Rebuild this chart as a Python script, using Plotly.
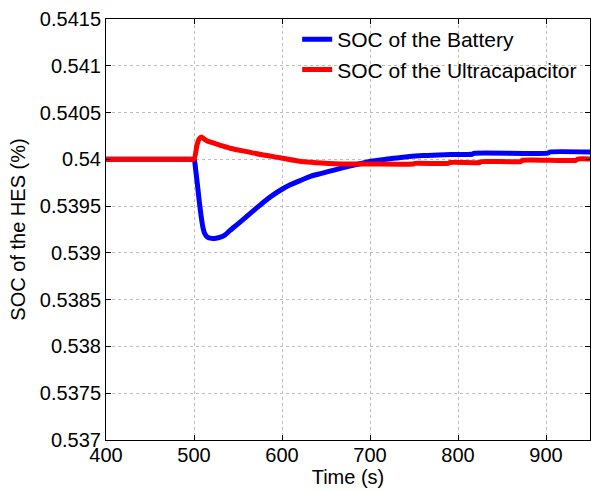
import plotly.graph_objects as go

# Battery SOC
t_batt = [400, 420, 440, 460, 480, 490, 496, 500, 502, 504, 506, 508, 510, 512, 515, 520, 525, 530,
          535, 541, 550, 560, 570, 580, 590, 600, 610, 620, 633, 645, 659, 678, 701, 718, 735, 760,
          785, 816, 818, 902, 904, 950]
v_batt = [0.54, 0.54, 0.54, 0.54, 0.54, 0.54, 0.54, 0.54, 0.53988, 0.53972, 0.53955, 0.53940,
          0.53928, 0.53921, 0.53917, 0.539155, 0.539157, 0.539168, 0.53919, 0.53924, 0.53931,
          0.53939, 0.53947, 0.53955, 0.53962, 0.53968, 0.53973, 0.53977, 0.53982, 0.53985,
          0.539885, 0.53993, 0.53998, 0.54000, 0.54002, 0.54004, 0.54005, 0.540054, 0.540064,
          0.540066, 0.540078, 0.540078]

# Ultracapacitor SOC
t_uc = [400, 420, 440, 460, 480, 490, 496, 500, 503.4, 506, 508.5, 511, 515, 520, 530, 541, 560,
        579, 598, 620, 633, 645, 660, 680, 700, 749, 751, 789, 791, 825, 827, 871, 873, 934, 936, 950]
v_uc = [0.54, 0.54, 0.54, 0.54, 0.54, 0.54, 0.54, 0.54, 0.540153, 0.54022, 0.540238, 0.54022,
        0.540196, 0.54018, 0.54015, 0.540118, 0.540082, 0.540046, 0.540017, 0.53998, 0.539968,
        0.53996, 0.539953, 0.53995, 0.53995, 0.53995, 0.539957, 0.539957, 0.539966, 0.539966,
        0.539976, 0.539976, 0.53999, 0.53999, 0.540003, 0.540003]

y_ticks = [0.537, 0.5375, 0.538, 0.5385, 0.539, 0.5395, 0.54, 0.5405, 0.541, 0.5415]
y_labels = ["0.537", "0.5375", "0.538", "0.5385", "0.539", "0.5395", "0.54", "0.5405", "0.541", "0.5415"]
x_ticks = [400, 500, 600, 700, 800, 900]

FONT = "Liberation Sans, Arial, sans-serif"

fig = go.Figure()
fig.add_trace(go.Scatter(x=t_batt, y=v_batt, mode="lines", name="SOC of the Battery",
                         line=dict(color="#0000ff", width=5, shape="spline", smoothing=0.6)))
fig.add_trace(go.Scatter(x=t_uc, y=v_uc, mode="lines", name="SOC of the Ultracapacitor",
                         line=dict(color="#ff0000", width=5, shape="spline", smoothing=0.6)))

axis_common = dict(
    showline=True, linecolor="black", linewidth=1, mirror="ticks",
    ticks="inside", ticklen=5, tickcolor="black", tickwidth=1,
    showgrid=True, gridcolor="#bdbdbd", gridwidth=1, griddash="3px,3px",
    zeroline=False, tickfont=dict(family=FONT, size=20, color="black"),
)

fig.update_xaxes(range=[400, 950], tickvals=x_ticks, ticklabelstandoff=-3,
                 title=dict(text="Time (s)", font=dict(family=FONT, size=20, color="black"), standoff=4),
                 **axis_common)
fig.update_yaxes(range=[0.537, 0.5415], tickvals=y_ticks, ticktext=y_labels,
                 title=dict(text="SOC of the HES (%)", font=dict(family=FONT, size=20, color="black"), standoff=8),
                 **axis_common)

fig.update_layout(
    width=591, height=491,
    margin=dict(l=106, r=1, t=19, b=51),
    plot_bgcolor="white", paper_bgcolor="white",
    font=dict(family=FONT, size=20, color="black"),
    showlegend=True,
    legend=dict(x=0.395, y=1.0, xanchor="left", yanchor="top",
                bgcolor="rgba(0,0,0,0)", borderwidth=0,
                font=dict(family=FONT, size=21, color="black"),
                tracegroupgap=0, itemwidth=30),
)

fig.write_html("out.html")
